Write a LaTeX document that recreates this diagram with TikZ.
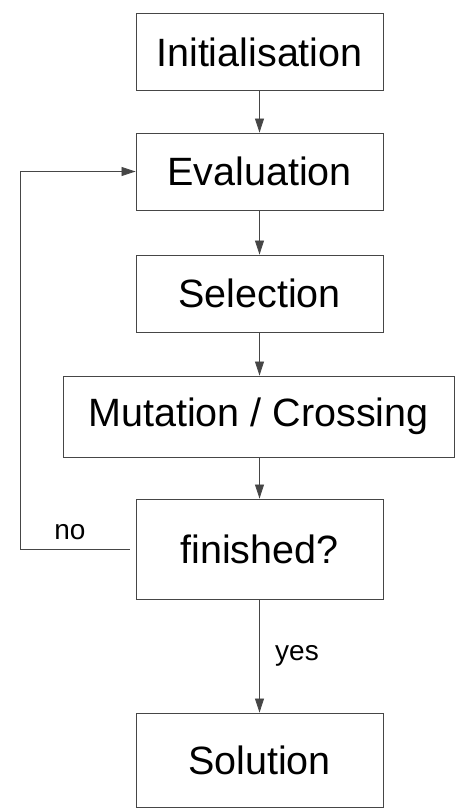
\documentclass[tikz,border=0pt]{standalone}
\usepackage{fontspec}
\setmainfont{Liberation Sans}
\usepackage{tikz}
\usepackage{xcolor}
\usetikzlibrary{arrows.meta, positioning}
\definecolor{lineclr}{RGB}{70, 70, 70}
\tikzset{
    stepbox/.style={rectangle, draw=lineclr, line width=0.9pt, minimum width=247pt, minimum height=77pt, font=\fontsize{39.5}{45}\selectfont, inner sep=0pt},
    widebox/.style={stepbox, minimum width=391pt, minimum height=81pt},
    flow/.style={draw=lineclr, line width=0.8pt, -{Triangle[length=14pt, width=9pt]}},
    flowlabel/.style={font=\fontsize{28}{32}\selectfont}
}
\begin{document}
\begin{tikzpicture}[x=1pt, y=-1pt]
    \useasboundingbox (0,0) rectangle (474,811);
    \node[stepbox] (init) at (259.5,52) {Initialisation};
    \node[stepbox] (eval) at (259.5,171.5) {Evaluation};
    \node[stepbox] (sel) at (259.5,293.5) {Selection};
    \node[widebox] (mut) at (258.5,416.5) {Mutation / Crossing};
    \node[stepbox, minimum height=100pt] (fin) at (259.5,549) {finished?};
    \node[stepbox, minimum height=94pt] (sol) at (259.5,760) {Solution};
    \coordinate (loop) at (20,0);
    \draw[flow] (init) -- (eval);
    \draw[flow] (eval) -- (sel);
    \draw[flow] (sel) -- (mut.north -| sel.south);
    \draw[flow] (mut.south -| fin.north) -- (fin);
    \draw[flow] (fin) -- node[flowlabel, right=12pt] {yes} (sol);
    \draw[flow, shorten <=6pt] (fin.west) -- (fin.west -| loop) |- (eval.west);
    \node[flowlabel] (no) at (70,532) {no};
\end{tikzpicture}
\end{document}
